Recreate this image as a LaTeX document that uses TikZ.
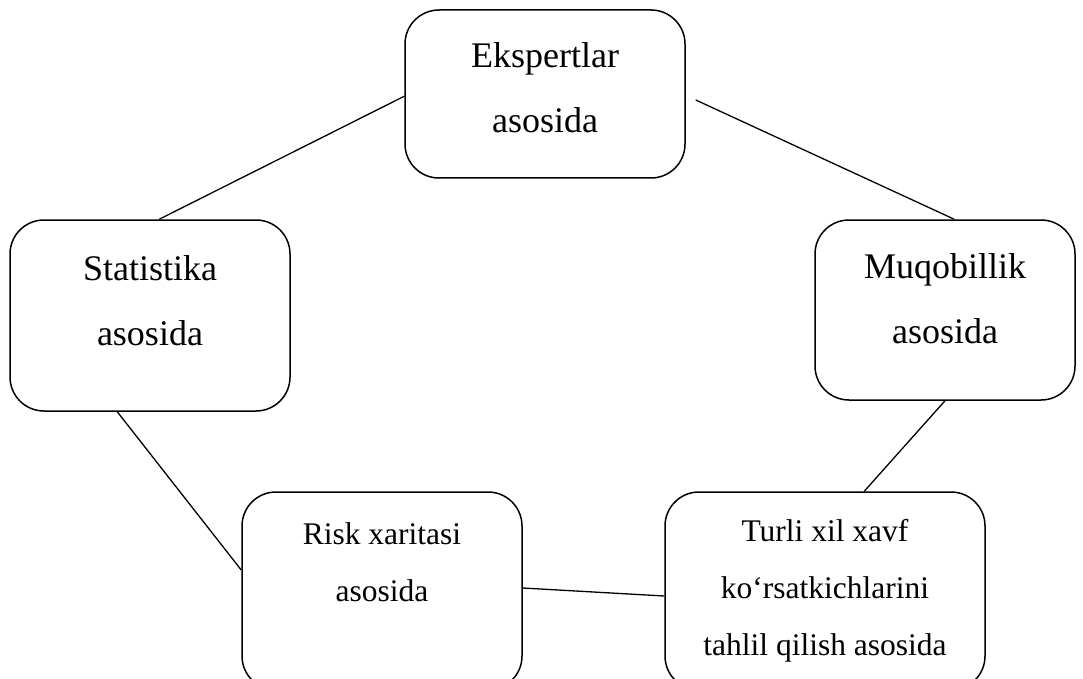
\documentclass[tikz,border=0pt]{standalone}
\usepackage{fontspec}
\setmainfont{Liberation Serif}
\begin{document}
\begin{tikzpicture}[x=1pt,y=-1pt,
  box/.style={draw,line width=1.5pt,rounded corners=34pt,inner sep=0pt},
  big/.style={align=center,font=\fontsize{36}{65}\selectfont},
  small/.style={align=center,font=\fontsize{31.5}{57}\selectfont},
  conn/.style={line width=1.3pt}]
\useasboundingbox (0,0) rectangle (1083,679);
\clip (0,0) rectangle (1083,679);
\node[box,minimum width=280pt,minimum height=168pt] (eks) at (545,94) {};
\node[box,minimum width=280pt,minimum height=191pt] (stat) at (150,315.5) {};
\node[box,minimum width=260pt,minimum height=180pt] (muq) at (945,310) {};
\node[box,minimum width=280pt,minimum height=198pt] (risk) at (382,591) {};
\node[box,minimum width=320pt,minimum height=198pt] (turli) at (825,591) {};
\node[big] (teks) at (545,88) {Ekspertlar\\asosida};
\node[big] (tstat) at (150,301) {Statistika\\asosida};
\node[big] (tmuq) at (945,299) {Muqobillik\\asosida};
\node[small] (trisk) at (382,562) {Risk xaritasi\\asosida};
\node[small] (tturli) at (825,591) {Turli xil xavf\\ko‘rsatkichlarini\\tahlil qilish asosida};
\coordinate (a1) at ([xshift=150pt]stat.north west);
\coordinate (a2) at ([yshift=-87pt]eks.north west);
\coordinate (b1) at ([xshift=10pt,yshift=-6pt]eks.east);
\coordinate (b2) at ([xshift=140pt]muq.north west);
\coordinate (c2) at ([xshift=200pt]turli.north west);
\coordinate (d1) at ([xshift=108pt]stat.south west);
\coordinate (d2) at ([yshift=21pt]risk.west);
\coordinate (e1) at ([yshift=3pt]risk.east);
\coordinate (e2) at ([yshift=-5pt]turli.west);
\draw[conn] (a1) -- (a2);
\draw[conn] (b1) -- (b2);
\draw[conn] (muq.south) -- (c2);
\draw[conn] (d1) -- (d2);
\draw[conn] (e1) -- (e2);
\end{tikzpicture}
\end{document}
